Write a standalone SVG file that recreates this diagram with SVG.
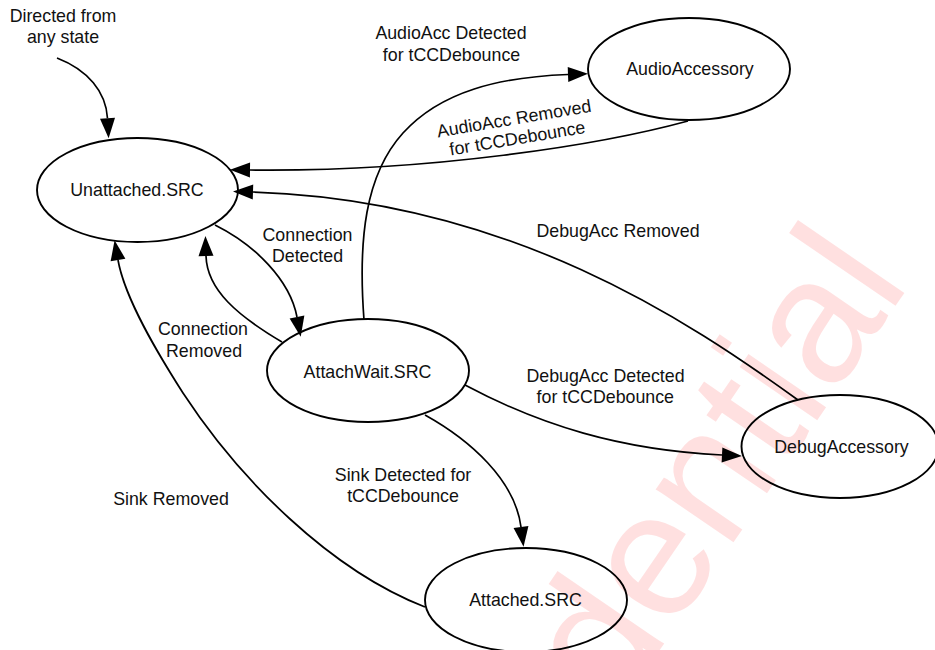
<svg xmlns="http://www.w3.org/2000/svg" width="935" height="650" viewBox="0 0 935 650">
  <style>
    text { font-family: "Liberation Sans", Arial, Helvetica, sans-serif; font-size: 17.8px; fill: #111; }
    .node ellipse { fill: none; stroke: #000; stroke-width: 1.9; }
    .node text { text-anchor: middle; }
    .edge { fill: none; stroke: #000; stroke-width: 1.7; marker-end: url(#head); }
    .lbl { text-anchor: middle; }
    .wm { font-size: 178px; fill: #ff0000; fill-opacity: 0.12; text-anchor: end; }
  </style>
  <defs>
    <marker id="head" markerUnits="userSpaceOnUse" markerWidth="22" markerHeight="18" refX="0" refY="7.5" orient="auto" overflow="visible">
      <path d="M0,0 L20,7.5 L0,15 Z" fill="#000"/>
    </marker>
  </defs>

  <rect width="935" height="650" fill="#fff"/>

  <!-- watermark -->
  <text class="wm" transform="translate(911,283) rotate(-55.6)">Confidential</text>

  <!-- transitions -->
  <g id="connectors">
    <path class="edge" d="M57,58 C88,70 106,92 107.5,118.3"/>
    <path class="edge" d="M364,320 C358,240 365,175 403,133 C441,91 500,77 568,74.5"/>
    <path class="edge" d="M688,121 C600,145 430,172 250,170"/>
    <path class="edge" d="M798,400 C690,322 510,200 253,192"/>
    <path class="edge" d="M215,225 C255,245 290,280 297,317"/>
    <path class="edge" d="M282,342 C238,316 207,290 206,256"/>
    <path class="edge" d="M465,385 C540,425 620,450 722,455"/>
    <path class="edge" d="M425,415 C470,440 515,480 521,527"/>
    <path class="edge" d="M425,607 C330,570 240,480 183,393 C160,357 125,300 118,260"/>
  </g>

  <!-- transition labels -->
  <g id="labels">
    <text class="lbl" x="63" y="21.5">Directed from</text>
    <text class="lbl" x="63" y="43">any state</text>
    <text class="lbl" x="451" y="39.3">AudioAcc Detected</text>
    <text class="lbl" x="451.5" y="61">for tCCDebounce</text>
    <g transform="translate(515,124.5) rotate(-9.5)">
      <text class="lbl" x="0" y="0">AudioAcc Removed</text>
      <text class="lbl" x="0" y="20">for tCCDebounce</text>
    </g>
    <text class="lbl" x="618" y="237.3">DebugAcc Removed</text>
    <text class="lbl" x="307.5" y="240.7">Connection</text>
    <text class="lbl" x="307.5" y="262.3">Detected</text>
    <text class="lbl" x="203" y="335">Connection</text>
    <text class="lbl" x="204" y="356.7">Removed</text>
    <text class="lbl" x="605.5" y="381.7">DebugAcc Detected</text>
    <text class="lbl" x="605.3" y="403.3">for tCCDebounce</text>
    <text class="lbl" x="403" y="480.7">Sink Detected for</text>
    <text class="lbl" x="403" y="501.7">tCCDebounce</text>
    <text class="lbl" x="171" y="505">Sink Removed</text>
  </g>

  <!-- states -->
  <g id="unattached-src" class="node">
    <ellipse cx="137.5" cy="190" rx="100.5" ry="52"/>
    <text x="137" y="195.5">Unattached.SRC</text>
  </g>
  <g id="attachwait-src" class="node">
    <ellipse cx="368" cy="370.5" rx="101" ry="51.5"/>
    <text x="367.5" y="378">AttachWait.SRC</text>
  </g>
  <g id="audio-accessory" class="node">
    <ellipse cx="689" cy="69" rx="101" ry="51"/>
    <text x="690" y="75">AudioAccessory</text>
  </g>
  <g id="debug-accessory" class="node">
    <ellipse cx="840" cy="446.5" rx="98.5" ry="51.5"/>
    <text x="841.5" y="452.7">DebugAccessory</text>
  </g>
  <g id="attached-src" class="node">
    <ellipse cx="526" cy="600" rx="101" ry="52"/>
    <text x="525.5" y="606">Attached.SRC</text>
  </g>
</svg>
